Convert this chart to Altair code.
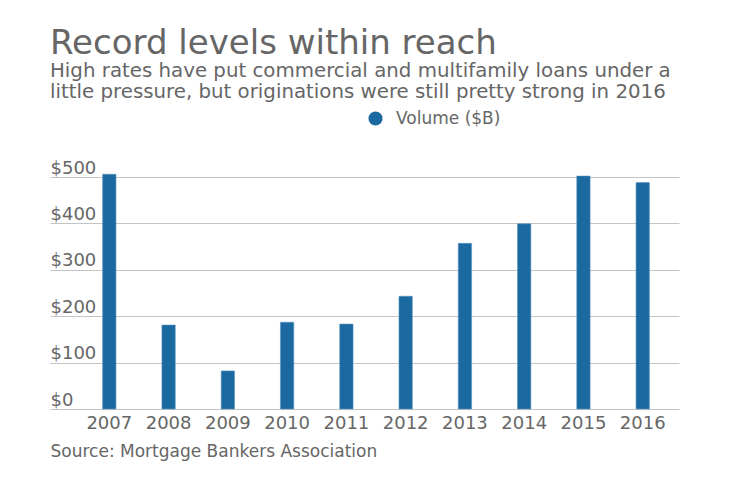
import altair as alt
import pandas as pd

years = ["2007", "2008", "2009", "2010", "2011", "2012", "2013", "2014", "2015", "2016"]
volume = [506, 181, 82, 187, 183, 243, 357, 399, 502, 488]
series_name = "Volume ($B)"
y_ticks = [0, 100, 200, 300, 400, 500]

df = pd.DataFrame({"year": years, "volume": volume, "series": [series_name] * len(years)})

FONT = "DejaVu Sans"
GRAY = "#666666"
BLUE = "#1a69a1"

chart = (
    alt.Chart(df)
    .mark_bar(color=BLUE, stroke="#5a94c0", strokeWidth=0.6)
    .encode(
        x=alt.X(
            "year:N",
            sort=years,
            scale=alt.Scale(paddingInner=0.775, paddingOuter=0.694, align=0.64),
            axis=alt.Axis(
                title="Source: Mortgage Bankers Association",
                titleFont=FONT,
                titleFontSize=17,
                titleFontWeight="normal",
                titleColor=GRAY,
                titleAnchor="start",
                titleAlign="left",
                titleBaseline="alphabetic",
                titleX=0,
                titleY=47,
                labelFont=FONT,
                labelFontSize=18,
                labelColor=GRAY,
                labelPadding=5,
                labelAngle=0,
                ticks=False,
                tickSize=0,
                domain=False,
                grid=False,
            ),
        ),
        y=alt.Y(
            "volume:Q",
            scale=alt.Scale(domain=[0, 500], nice=False),
            axis=alt.Axis(
                title=None,
                values=y_ticks,
                labelExpr="'$' + datum.value",
                labelFont=FONT,
                labelFontSize=18,
                labelColor=GRAY,
                labelAlign="left",
                labelBaseline="alphabetic",
                labelPadding=0,
                labelOffset=-4,
                ticks=False,
                tickSize=0,
                domain=False,
                grid=True,
                gridColor="#c4c4c4",
                gridWidth=1,
            ),
        ),
        color=alt.Color(
            "series:N",
            scale=alt.Scale(domain=[series_name], range=[BLUE]),
            legend=alt.Legend(
                title=None,
                orient="none",
                legendX=317,
                legendY=-67,
                padding=0,
                symbolType="circle",
                symbolSize=200,
                symbolStrokeWidth=0,
                labelFont=FONT,
                labelFontSize=17,
                labelColor=GRAY,
                labelOffset=12,
            ),
        ),
    )
    .properties(
        width=629,
        height=232,
        autosize=alt.AutoSizeParams(type="none"),
        padding={"left": 42, "top": 169, "right": 53, "bottom": 65},
        title=alt.TitleParams(
            text="Record levels within reach",
            subtitle=[
                "High rates have put commercial and multifamily loans under a",
                "little pressure, but originations were still pretty strong in 2016",
            ],
            anchor="start",
            frame="group",
            font=FONT,
            fontSize=34,
            fontWeight="normal",
            color=GRAY,
            subtitleFont=FONT,
            subtitleFontSize=19.8,
            subtitleColor=GRAY,
            subtitleLineHeight=21,
            subtitlePadding=0,
            offset=8,
        ),
    )
    .configure_view(stroke=None)
)

chart.save("out.html", embed_options={"renderer": "svg", "actions": False})
